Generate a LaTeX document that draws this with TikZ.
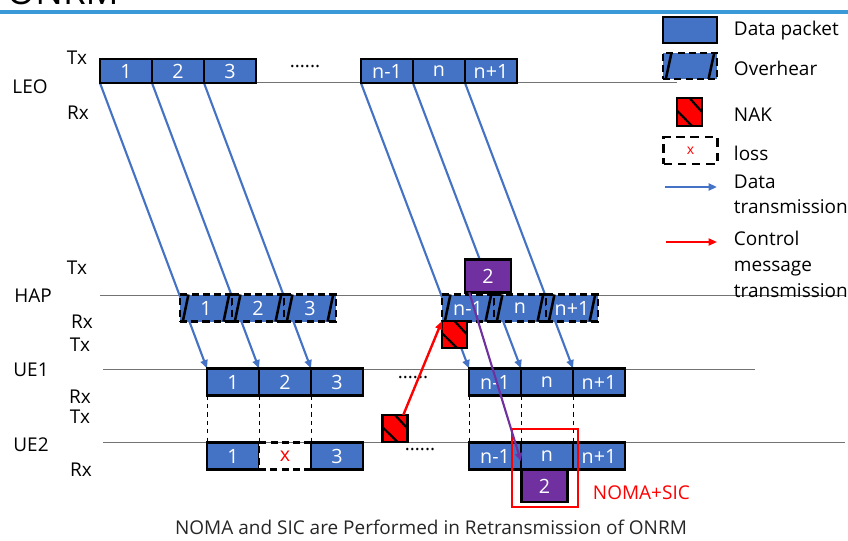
\documentclass[tikz,border=0pt]{standalone}
\usepackage{fontspec}
\setmainfont{Open Sans}
\usetikzlibrary{arrows.meta, positioning, calc, backgrounds}
\definecolor{pktblue}{HTML}{4472C4}
\definecolor{nakred}{HTML}{FF0000}
\definecolor{sicpurple}{HTML}{7030A0}
\definecolor{topblue}{HTML}{3A9AD9}

\begin{document}
\begin{tikzpicture}[x=0.025cm,y=-0.025cm,node distance=1.3cm,on grid,
    every node/.style={font=\fontsize{13.5}{16}\selectfont},
    packet/.style={draw,fill=pktblue,text=white,line width=2pt,
      minimum width=1.3cm,minimum height=0.675cm,inner sep=0pt,outer sep=0pt,
      font=\fontsize{14}{16}\selectfont},
    leopkt/.style={packet,minimum height=0.6cm},
    overhear/.style={packet,dash pattern=on 5pt off 3pt,
      path picture={\draw[line width=1.8pt,solid]
        ([xshift=2pt]path picture bounding box.south west) -- ([xshift=6pt]path picture bounding box.north west)
        ([xshift=-6pt]path picture bounding box.south east) -- ([xshift=-2pt]path picture bounding box.north east);}},
    loss/.style={packet,fill=white,text=nakred,dash pattern=on 5pt off 3pt},
    nak/.style={draw,fill=nakred,line width=1.8pt,minimum width=0.625cm,
      minimum height=0.675cm,inner sep=0pt,outer sep=0pt,
      path picture={\draw[line width=1.6pt]
        ($(path picture bounding box.north west)!0.5!(path picture bounding box.north east)$) --
        ($(path picture bounding box.north east)!0.5!(path picture bounding box.south east)$)
        ($(path picture bounding box.north west)!0.45!(path picture bounding box.south west)$) --
        ($(path picture bounding box.south west)!0.6!(path picture bounding box.south east)$);}},
    retx/.style={draw,fill=sicpurple,text=white,line width=2pt,minimum width=1.15cm,
      minimum height=0.82cm,inner sep=0pt,outer sep=0pt,font=\fontsize{14}{16}\selectfont},
    tline/.style={draw=black!55,line width=0.6pt},
    datatx/.style={draw=pktblue,line width=1.5pt,-{Triangle[length=6pt,width=5pt]}},
    ctrltx/.style={draw=nakred,line width=1.7pt,-{Triangle[length=6pt,width=5pt]}},
    sictx/.style={draw=sicpurple,line width=1.5pt,-{Triangle[length=6pt,width=5pt]}},
    vdash/.style={draw,dashed,line width=0.7pt}
  ]
  \useasboundingbox (0,0) rectangle (848,540);
  \node[anchor=base west,font=\fontsize{26}{30}\selectfont] (title) at (2,4) {ONRM};
  \draw[topblue,line width=2.5pt] (0,12) -- (848,12);

  % row labels
  \node (leo) at (30,87) {LEO};
  \node (leo_tx) at (77,58) {Tx};
  \node (leo_rx) at (78,113) {Rx};
  \node (hap) at (33,296) {HAP};
  \node (hap_tx) at (77,268) {Tx};
  \node (hap_rx) at (82,322) {Rx};
  \node (ue1_tx) at (80,345) {Tx};
  \node (ue1) at (31,370) {UE1};
  \node (ue1_rx) at (80,397) {Rx};
  \node (ue2_tx) at (80,417) {Tx};
  \node (ue2) at (31,445) {UE2};
  \node (ue2_rx) at (81,470) {Rx};

  % LEO
  \node[leopkt] (leo_1) at (126,71) {1};
  \node[leopkt] (leo_2) [right=of leo_1] {2};
  \node[leopkt] (leo_3) [right=of leo_2] {3};
  \node (leo_dots) at (305,67) {......};
  \node[leopkt] (leo_m) at (387,71) {n-1};
  \node[leopkt] (leo_n) [right=of leo_m] {n};
  \node[leopkt] (leo_p) [right=of leo_n] {n+1};

  % HAP
  \node[retx] (retx_hap) at (488,276) {2};
  \node[overhear] (hap_1) at (206,308) {1};
  \node[overhear] (hap_2) [right=of hap_1] {2};
  \node[overhear] (hap_3) [right=of hap_2] {3};
  \node[overhear] (hap_m) at (468,308) {n-1};
  \node[overhear] (hap_n) [right=of hap_m] {n};
  \node[overhear] (hap_p) [right=of hap_n] {n+1};
  \node[nak] (nak_hap) at (454.5,334.5) {};

  % UE1
  \node[packet] (ue1_1) at (233,382) {1};
  \node[packet] (ue1_2) [right=of ue1_1] {2};
  \node[packet] (ue1_3) [right=of ue1_2] {3};
  \node (ue1_dots) at (413,378) {......};
  \node[packet] (ue1_m) at (495,382) {n-1};
  \node[packet] (ue1_n) [right=of ue1_m] {n};
  \node[packet] (ue1_p) [right=of ue1_n] {n+1};

  % UE2
  \node[nak] (nak_ue2) at (395,428.5) {};
  \node[packet] (ue2_1) at (233,456) {1};
  \node[loss] (ue2_2) [right=of ue2_1] {x};
  \node[packet] (ue2_3) [right=of ue2_2] {3};
  \node (ue2_dots) at (420,450) {......};
  \node[packet] (ue2_m) at (495,456) {n-1};
  \node[packet] (ue2_n) [right=of ue2_m] {n};
  \node[packet] (ue2_p) [right=of ue2_n] {n+1};
  \node[retx,minimum height=0.8cm] (retx_ue2) at (544.5,486) {2};
  \node[draw=nakred,line width=2pt,minimum width=1.65cm,minimum height=1.95cm,
    inner sep=0pt] (sic_box) at (545,468) {};
  \node[text=nakred,anchor=west] (sic_lbl) at (588,493) {NOMA+SIC};

  \foreach \k in {1,2,3,m,n,p}
    \draw[vdash] (ue1_\k.south west) -- (ue2_\k.north west);

  \begin{pgfonlayer}{background}
    \draw[tline] (100,82) -- (677,82);
    \draw[tline] (100,295) -- (845,295);
    \draw[tline] (103,369) -- (755,369);
    \draw[tline] (103,442) -- (845,442);
    \foreach \k in {1,2,3,m,n,p}
      \draw[datatx] (leo_\k.south west) -- (ue1_\k.north west);
  \end{pgfonlayer}

  \draw[ctrltx] ([xshift=-3pt]nak_ue2.north east) -- (nak_hap.north west);
  \draw[sictx] ([xshift=3pt]retx_hap.south west) -- ($(ue2_n.west)!0.4!(ue2_n.south west)$);

  % legend
  \node[packet,minimum width=1.35cm,minimum height=0.65cm] (leg_pkt) at (690,30) {};
  \node[overhear,minimum width=1.35cm,minimum height=0.65cm] (leg_ovh) at (690,66) {};
  \node[nak,minimum height=0.7cm] (leg_nak) at (689.5,112) {};
  \node[loss,minimum width=1.33cm,dash pattern=on 6pt off 4pt,
    font=\fontsize{10}{12}\selectfont] (leg_loss) at (690.5,150.5) {x};
  \coordinate (leg_d1) at (665,187);
  \coordinate (leg_d2) at (717,187);
  \draw[datatx] (leg_d1) -- (leg_d2);
  \coordinate (leg_c1) at (666,242);
  \coordinate (leg_c2) at (717,242);
  \draw[ctrltx,line width=1.3pt] (leg_c1) -- (leg_c2);
  \node[anchor=west] (leg_pkt_lbl) at (729,31) {Data packet};
  \node[anchor=west] (leg_ovh_lbl) at (729,68) {Overhear};
  \node[anchor=west] (leg_nak_lbl) at (729,115) {NAK};
  \node[anchor=west] (leg_loss_lbl) at (729,153) {loss};
  \node[anchor=west,align=left,font=\fontsize{13.5}{18}\selectfont] (leg_d_lbl)
    at (729,194.5) {Data\\transmission};
  \node[anchor=west,align=left,font=\fontsize{13.5}{18.5}\selectfont] (leg_c_lbl)
    at (729,264.5) {Control\\message\\transmission};

  \node[text=black!85] (caption) at (431,527)
    {NOMA and SIC are Performed in Retransmission of ONRM};
\end{tikzpicture}
\end{document}
